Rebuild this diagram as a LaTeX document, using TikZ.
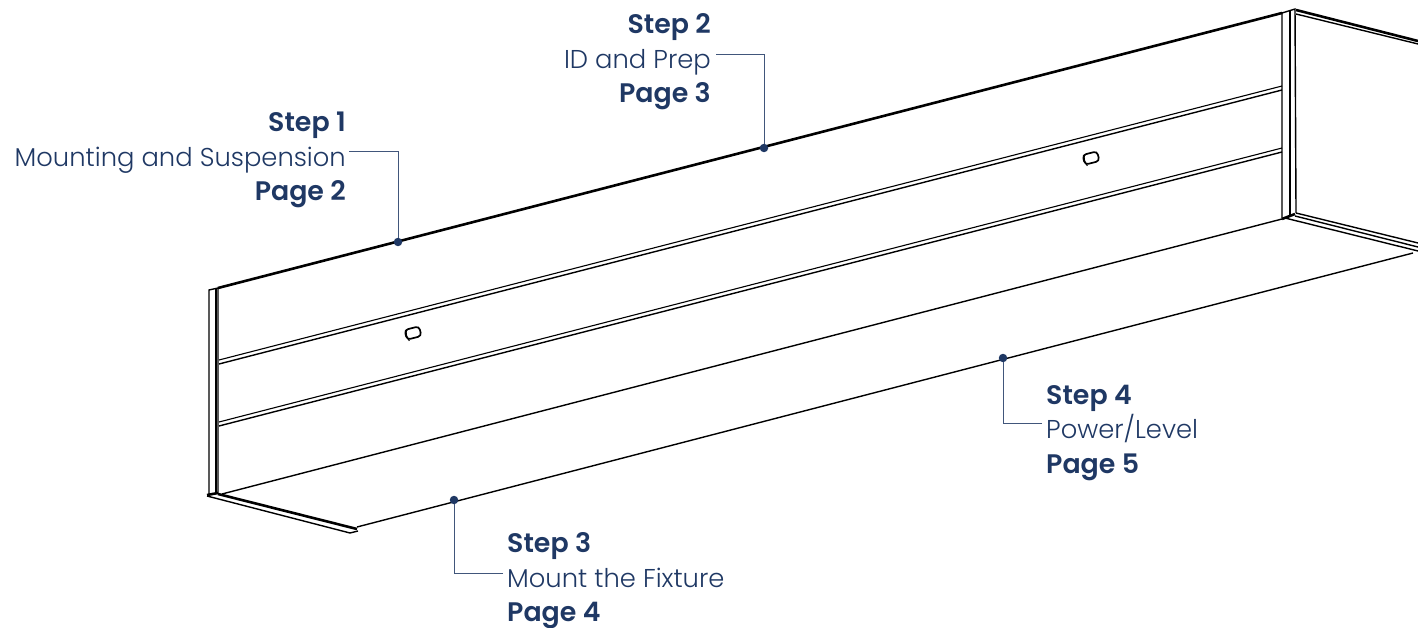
\documentclass[tikz,border=0pt]{standalone}
\usepackage{fontspec}
\setmainfont{Poppins}[UprightFont=* Light,BoldFont=* SemiBold,BoldFeatures={Scale=1.04}]
\usepackage{xcolor}
\definecolor{stepblue}{HTML}{1F3864}
\tikzset{
    part/.style={line width=1.4pt, black},
    partthin/.style={line width=1.1pt, black},
    partthick/.style={line width=2.6pt, black},
    leader/.style={line width=0.9pt, stepblue!85},
    dot/.style={circle, fill=stepblue, inner sep=0pt, minimum size=8.5pt},
    steptext/.style={text=stepblue, font=\fontsize{25.8}{34.5}\selectfont, inner sep=0pt},
    slot/.style={draw=black, line width=1.7pt, rounded corners=3.5pt, rectangle, inner sep=0pt, minimum width=15pt, minimum height=10pt, rotate=14.5}
}
\begin{document}
\begin{tikzpicture}[x=1pt, y=-1pt]
    \useasboundingbox (0, 0) rectangle (1418, 628);
    % left post
    \draw[part] (209, 494) -- (209, 290) -- (218, 288) -- (218, 494);
    \draw[partthin] (216, 289) -- (216, 494);
    \draw[partthick] (207, 495) -- (218, 493);
    % top edge
    \draw[partthick] (218, 288) -- (1282, 13);
    % ribs
    \draw[partthin] (219, 360) -- (1282, 86);
    \draw[part] (219, 364) -- (1282, 90);
    \draw[partthin] (219, 422) -- (1282, 148);
    \draw[part] (219, 426) -- (1282, 152);
    % right post
    \draw[part] (1282, 218) -- (1282, 13) -- (1295, 9) -- (1296, 213);
    \draw[partthin] (1290, 11) -- (1290, 215);
    \draw[partthick] (1282, 219) -- (1295, 214);
    % right return, top and bottom
    \draw[partthick] (1296, 10) -- (1418, 41);
    \draw[part] (1296, 14) -- (1418, 44);
    \draw[part] (1296, 213) -- (1418, 243);
    \draw[part] (1295, 216) -- (1418, 247);
    \draw[part] (1285, 218) -- (1418, 251);
    % shelf
    \draw[part] (222, 494) -- (1282, 219);
    \draw[part] (357, 527) -- (1413, 253);
    \draw[partthick] (218, 494) -- (357, 529);
    \draw[part] (207, 496) -- (350, 533) -- (358, 531);
    % slots
    \node[slot] (slot1) at (413, 333) {};
    \node[slot] (slot2) at (1091, 158) {};
    \draw[partthin] ([xshift=3pt]slot1.north west) to[bend right=25] ([xshift=3pt]slot1.south west);
    \draw[partthin] ([xshift=3pt]slot2.north west) to[bend right=25] ([xshift=3pt]slot2.south west);
    % labels
    \node[steptext, anchor=east, align=right] (s1text) at (346, 160) {\textbf{Step 1}\\Mounting and Suspension\\\textbf{Page 2}};
    \node[steptext, anchor=east, align=right] (s2text) at (711, 62) {\textbf{Step 2}\\ID and Prep\\\textbf{Page 3}};
    \node[steptext, anchor=west, align=left] (s3text) at (507, 581) {\textbf{Step 3}\\Mount the Fixture\\\textbf{Page 4}};
    \node[steptext, anchor=west, align=left] (s4text) at (1046, 433) {\textbf{Step 4}\\Power/Level\\\textbf{Page 5}};
    % dots
    \node[dot] (d1) at (398, 242) {};
    \node[dot] (d2) at (764, 148) {};
    \node[dot] (d3) at (454, 500) {};
    \node[dot] (d4) at (1003, 358) {};
    \coordinate (a1) at (349, 151);
    \coordinate (a2) at (716, 54);
    \coordinate (a3) at (503, 573);
    \coordinate (a4) at (1042, 423);
    \draw[leader] (a1) -| (d1);
    \draw[leader] (a2) -| (d2);
    \draw[leader] (a3) -| (d3);
    \draw[leader] (a4) -| (d4);
\end{tikzpicture}
\end{document}
